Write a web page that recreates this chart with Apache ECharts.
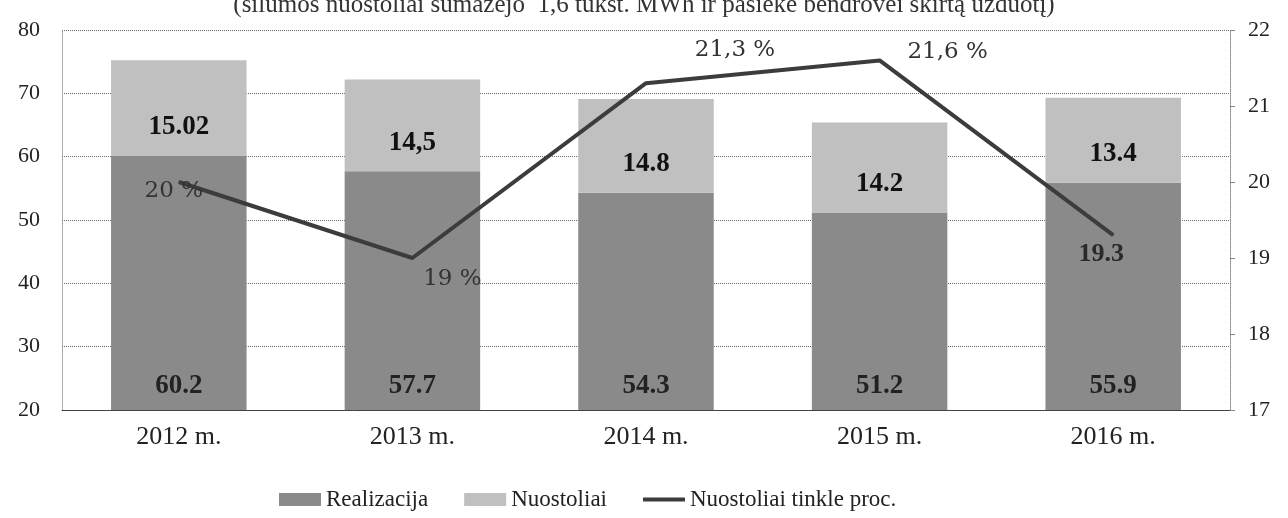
<!DOCTYPE html>
<html>
<head>
<meta charset="utf-8">
<script src="https://cdn.jsdelivr.net/npm/echarts@6/dist/echarts.min.js"></script>
<style>
  html, body { margin: 0; padding: 0; background: #fff; }
  #chart { width: 1288px; height: 518px; }
</style>
</head>
<body>
<div id="chart"></div>
<script>
// data
var years = ['2012 m.', '2013 m.', '2014 m.', '2015 m.', '2016 m.'];
var realizacija = [60.2, 57.7, 54.3, 51.2, 55.9];
var realizacijaLabels = ['60.2', '57.7', '54.3', '51.2', '55.9'];
var nuostoliai = [15.02, 14.5, 14.8, 14.2, 13.4];
var nuostoliaiLabels = ['15.02', '14,5', '14.8', '14.2', '13.4'];
var tinkleProc = [20, 19, 21.3, 21.6, 19.3];
var tinkleLabels = ['20 %', '19 %', '21,3 %', '21,6 %', '19.3'];
var leftTicks = { min: 20, max: 80, step: 10 };
var rightTicks = { min: 17, max: 22, step: 1 };

// where each line label sits relative to its point
var lineLabelOffset = [[-5, 9], [40, 21], [89, -33], [68, -8], [-12, 19]];

document.addEventListener('DOMContentLoaded', function () {
    var chart = echarts.init(document.getElementById('chart'));
    var serif = 'Liberation Serif';
    var wide = 'DejaVu Serif';

    var lineData = tinkleProc.map(function (v, i) {
        var last = i === tinkleProc.length - 1;
        return {
            value: v,
            label: {
                offset: lineLabelOffset[i],
                fontFamily: last ? serif : wide,
                fontSize: last ? 26 : 23,
                fontWeight: last ? 'bold' : 'normal',
                color: last ? '#2a2a2a' : '#333'
            }
        };
    });

    var option = {
        backgroundColor: '#fff',
        title: {
            text: '(šilumos nuostoliai sumažėjo  1,6 tūkst. MWh ir pasiekė bendrovei skirtą užduotį)',
            left: 'center',
            top: -12,
            textStyle: { fontFamily: serif, fontSize: 25, fontWeight: 'normal', color: '#333' }
        },
        color: ['#8a8a8a', '#c0c0c0', '#3c3c3c'],
        legend: {
            bottom: 2,
            left: 274,
            itemGap: 36,
            itemWidth: 42,
            itemHeight: 13,
            textStyle: { fontFamily: serif, fontSize: 23, color: '#222' },
            data: [
                { name: 'Realizacija', icon: 'rect' },
                { name: 'Nuostoliai', icon: 'rect' },
                { name: 'Nuostoliai tinkle proc.', icon: 'path://M0,0 L42,0 L42,4 L0,4 Z', itemStyle: { color: '#3c3c3c' } }
            ]
        },
        grid: { left: 62, right: 58, top: 30, bottom: 108 },
        xAxis: {
            type: 'category',
            data: years,
            axisTick: { show: false },
            axisLine: { lineStyle: { color: '#444', width: 1 } },
            axisLabel: { fontFamily: serif, fontSize: 26, color: '#222', margin: 14 }
        },
        yAxis: [
            {
                type: 'value',
                min: leftTicks.min,
                max: leftTicks.max,
                interval: leftTicks.step,
                axisLine: { show: true, lineStyle: { color: '#999', type: 'dotted' } },
                axisTick: { show: false },
                splitLine: { lineStyle: { color: '#666', type: 'dotted', width: 1 } },
                axisLabel: { fontFamily: serif, fontSize: 22, color: '#222', margin: 22 }
            },
            {
                type: 'value',
                min: rightTicks.min,
                max: rightTicks.max,
                interval: rightTicks.step,
                position: 'right',
                axisLine: { show: true, lineStyle: { color: '#888', type: 'dotted' } },
                axisTick: { show: true, length: 5, lineStyle: { color: '#888' } },
                splitLine: { show: false },
                axisLabel: { fontFamily: serif, fontSize: 22, color: '#222', margin: 18 }
            }
        ],
        series: [
            {
                name: 'Realizacija',
                type: 'bar',
                stack: 'total',
                barWidth: '58%',
                data: realizacija,
                itemStyle: { color: '#8a8a8a' },
                label: {
                    show: true,
                    position: 'insideBottom',
                    distance: 10,
                    fontFamily: serif,
                    fontSize: 27,
                    fontWeight: 'bold',
                    color: '#222',
                    formatter: function (p) { return realizacijaLabels[p.dataIndex]; }
                }
            },
            {
                name: 'Nuostoliai',
                type: 'bar',
                stack: 'total',
                data: nuostoliai,
                itemStyle: { color: '#c0c0c0' },
                label: {
                    show: true,
                    position: 'insideBottom',
                    distance: 15,
                    fontFamily: serif,
                    fontSize: 27,
                    fontWeight: 'bold',
                    color: '#111',
                    formatter: function (p) { return nuostoliaiLabels[p.dataIndex]; }
                }
            },
            {
                name: 'Nuostoliai tinkle proc.',
                type: 'line',
                yAxisIndex: 1,
                data: lineData,
                symbol: 'circle',
                symbolSize: 1,
                showSymbol: true,
                lineStyle: { color: '#3c3c3c', width: 4 },
                itemStyle: { color: '#3c3c3c' },
                label: {
                    show: true,
                    position: 'inside',
                    formatter: function (p) { return tinkleLabels[p.dataIndex]; }
                }
            }
        ]
    };
    chart.setOption(option);
});
</script>
</body>
</html>
